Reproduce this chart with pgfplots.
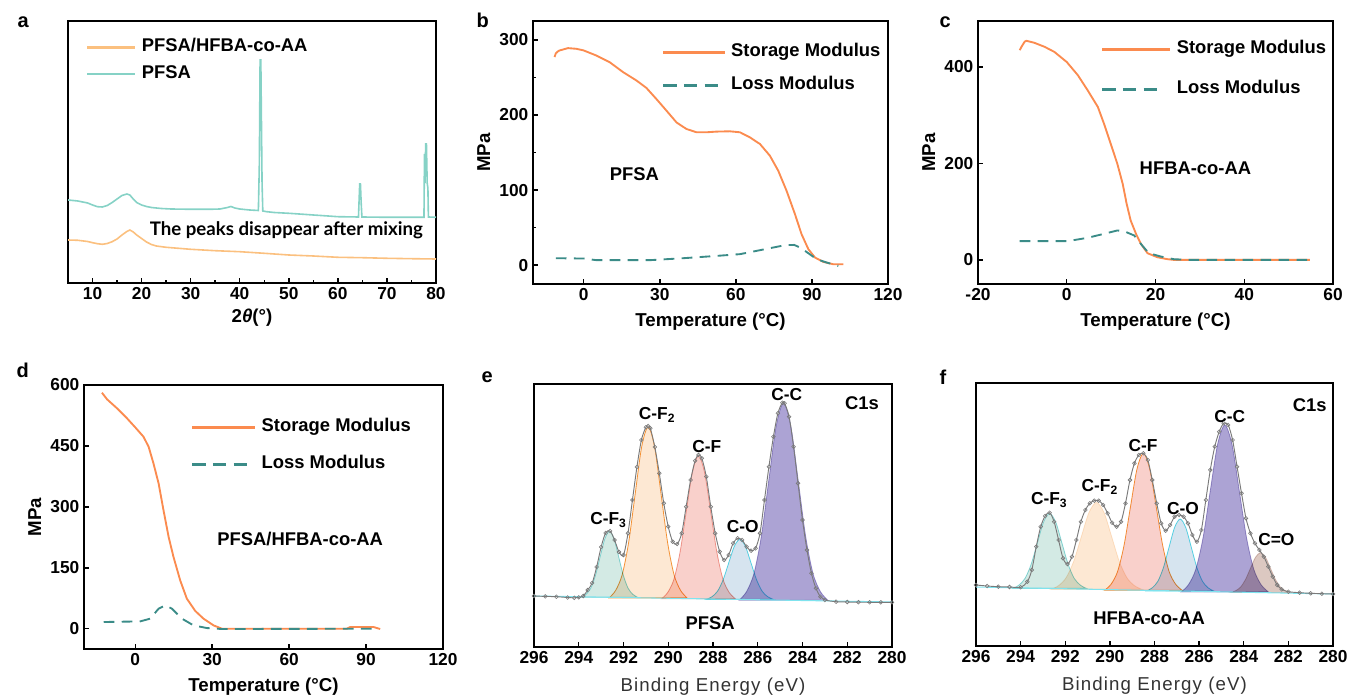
\documentclass[border=0pt]{standalone}
\usepackage{fontspec}
\setmainfont{Liberation Sans}
\newfontfamily\latofont{Lato}
\usepackage{pgfplots}
\pgfplotsset{compat=1.18}

\definecolor{Storage}{HTML}{FB8B4F}
\definecolor{Loss}{HTML}{3B8C88}
\definecolor{Pfsa}{HTML}{86D2C6}
\definecolor{Blend}{HTML}{FBC07F}
\definecolor{Env}{HTML}{7A7A7A}
\definecolor{Base}{HTML}{7FE3EE}
\definecolor{FthreeFill}{HTML}{D3EAE4}
\definecolor{FthreeEdge}{HTML}{8FDCDD}
\definecolor{FtwoFill}{HTML}{FDE8D3}
\definecolor{FtwoEdge}{HTML}{F59A3C}
\definecolor{FoneFill}{HTML}{F9D0CB}
\definecolor{FoneEdge}{HTML}{F2A49A}
\definecolor{COFill}{HTML}{D6E4EF}
\definecolor{COEdge}{HTML}{5FDDEA}
\definecolor{CCFill}{HTML}{ACA3D4}
\definecolor{CdOFill}{HTML}{DCC8C1}

\newcommand\tickfont{\fontsize{13}{15}\selectfont\bfseries}
\newcommand\labfont{\fontsize{14}{16}\selectfont\bfseries}
\newcommand\legfont{\fontsize{13.8}{16}\selectfont\bfseries}
\newcommand\pkfont{\fontsize{13}{15}\selectfont\bfseries}
% legend keys: coloured rules set as text, then the entry text
\newcommand\solidkey[2]{\textcolor{#1}{\rule[2.2pt]{#2}{2pt}}}
\newcommand\dashkey[1]{\textcolor{#1}{\rule[2.2pt]{10pt}{2pt}\hspace{5.5pt}\rule[2.2pt]{10pt}{2pt}\hspace{5.5pt}\rule[2.2pt]{10pt}{2pt}}}
\newcommand\legrow[3]{\node[anchor=west, inner sep=0pt, font=\legfont] at (axis description cs:#1) {#2\hspace{5pt}#3};}

\pgfplotsset{
  panel/.style={scale only axis, anchor=south west,
    axis line style={line width=1.4pt},
    tick pos=left, tick align=inside,
    major tick length=4pt, minor tick length=2.5pt,
    every tick/.style={black, line width=1.1pt},
    tick label style={font=\tickfont},
    /pgf/number format/assume math mode=true,
    label style={font=\labfont}},
  dma/.style={panel, xlabel={Temperature (°C)}, ylabel={MPa},
    xlabel style={yshift=-2pt}},
  xps/.style={panel, x dir=reverse, xmin=280, xmax=296, xtick={280,282,...,296},
    ymin=0, ymax=263, ytick=\empty,
    xlabel={Binding Energy (eV)},
    xlabel style={font=\fontsize{14}{16}\selectfont\addfontfeature{LetterSpace=6}, color=black!80, yshift=-4pt}},
  stor/.style={Storage, line width=1.4pt},
  loss/.style={Loss, line width=1.4pt, dash pattern=on 8pt off 5.5pt},
  env/.style={Env, line width=0.7pt, smooth, mark=o, mark size=1.4pt, mark options={solid, line width=0.45pt}},
  comp/.style={smooth, line width=0.6pt, blend mode=multiply}
}

\begin{document}
\begin{tikzpicture}
\path[use as bounding box] (0,0) rectangle (1011.75pt,524.25pt);

% panel letters
\node[anchor=base west, font=\fontsize{15}{17}\selectfont\bfseries] at (9.75pt,503.25pt) {a};
\node[anchor=base west, font=\fontsize{15}{17}\selectfont\bfseries] at (354pt,503.25pt) {b};
\node[anchor=base west, font=\fontsize{15}{17}\selectfont\bfseries] at (701.25pt,503.25pt) {c};
\node[anchor=base west, font=\fontsize{15}{17}\selectfont\bfseries] at (9pt,240.75pt) {d};
\node[anchor=base west, font=\fontsize{15}{17}\selectfont\bfseries] at (357.75pt,237pt) {e};
\node[anchor=base west, font=\fontsize{15}{17}\selectfont\bfseries] at (701.25pt,235.5pt) {f};

% (a) XRD
\begin{axis}[panel, at={(51pt,312pt)}, width=276pt, height=196.5pt,
  xmin=5, xmax=80, xtick={10,20,...,80}, minor x tick num=1,
  ymin=0, ymax=262, ytick=\empty,
  xlabel={2\textit{θ}(°)}]
\addplot[Blend, line width=1.2pt] coordinates {(5,43) (7,42.7) (9,41.5) (10,40.3) (11,39.3) (12,38.7) (13,39.5) (14,41.3) (15,44) (16,48) (17,51.5) (17.6,53) (18.3,51) (19,48) (20,44.5) (21,41) (22,38.5) (23,37) (25,35.7) (28,34.5) (30,33.7) (35,32.3) (40,31.3) (45,29.7) (50,28) (55,27) (60,25.7) (65,25.3) (70,24.7) (75,24.3) (80,24)};
\addplot[Pfsa, line width=1.2pt] coordinates {(5,83) (6,82.5) (7,82) (8,81) (9,80) (10,78) (11,76.3) (12,76) (13,77.5) (14,80.5) (15,84) (16,87.5) (17,89) (17.6,88) (18.3,84) (19,80.5) (20,78) (21,76.5) (22,75.5) (24,74.5) (26,74) (30,73.7) (34,73.7) (36,74) (37.5,75.5) (38.2,76.5) (39,75) (40,74) (42,73) (43.8,72.5) (44.0,120) (44.15,223) (44.3,223) (44.45,150) (44.55,100) (44.7,72) (45.5,71.3) (47,70.5) (50,69.7) (53,68.7) (55,68) (58,67) (60,66.3) (64.2,66) (64.45,99) (64.6,99) (64.75,80) (64.9,66) (70,65.7) (75,65.7) (77.55,65.7) (77.65,129) (77.75,100) (77.9,139) (78.05,139) (78.2,100) (78.35,95) (78.45,66) (80,65.7)};
\legrow{0.0516,0.908}{\solidkey{Blend}{36pt}}{PFSA/HFBA-co-AA}
\legrow{0.0516,0.805}{\solidkey{Pfsa}{36pt}}{PFSA}
\node[font=\latofont\fontsize{14}{16}\selectfont\bfseries] at (axis cs:49.5,53) {The peaks disappear after mixing};
\end{axis}

% (b) PFSA DMA
\begin{axis}[dma, at={(399.75pt,311.25pt)}, width=266.25pt, height=197.25pt,
  xmin=-20, xmax=120, xtick={0,30,60,90,120},
  ymin=-25, ymax=325, ytick={0,100,200,300}, minor y tick num=1]
\addplot[stor] coordinates {(-11.5,277) (-11,282) (-10,285) (-9.5,285.8) (-6.2,288.9) (-2.9,288) (0,285.8) (5,279) (10.3,270) (15.5,257) (20.8,245.8) (24.7,236) (28.7,221) (32.6,205.8) (36.6,190) (40.5,181.3) (44.5,176.9) (48.4,176.9) (52.4,177.8) (57.6,178.2) (61.6,176.9) (65.5,170.2) (69.5,161.3) (73.4,145.8) (76.7,125.8) (80,99) (83.3,68) (85.9,41.3) (88.6,21.3) (91.2,10.2) (94.5,4.4) (98.4,1.3) (102.4,1.3)};
\addplot[loss] coordinates {(-11,9.3) (0,8.9) (5,6.7) (12.9,6.7) (26,6.7) (39.2,9.3) (52.4,12.4) (61.6,14.7) (69.5,20) (76,24.4) (79.4,26.7) (83,27) (85,24) (87.3,19) (91.9,8) (95.8,3.6) (100.4,-0.9)};
\legrow{0.366,0.882}{\solidkey{Storage}{46pt}}{Storage Modulus}
\legrow{0.366,0.764}{\makebox[46pt][l]{\dashkey{Loss}}}{Loss Modulus}
\node[font=\legfont] at (axis cs:20,121) {PFSA};
\end{axis}

% (c) HFBA-co-AA DMA
\begin{axis}[dma, at={(733.5pt,311.25pt)}, width=266.25pt, height=197.25pt,
  xmin=-20, xmax=60, xtick={-20,0,20,40,60},
  ymin=-50, ymax=495, ytick={0,200,400}]
\addplot[stor] coordinates {(-10.6,434.6) (-10.2,441.5) (-9.5,452) (-9.1,454) (-7.3,449.8) (-5,441.5) (-2.8,431) (0,410) (2.5,382.7) (4.7,351.5) (7,317) (8.4,282) (9.9,240.8) (11.4,199) (12.6,157.8) (13.5,116) (14.4,81.7) (15.6,54) (16.7,33.2) (18.2,13.8) (20.4,5.5) (22.7,1.4) (24.1,0) (54.8,0)};
\addplot[loss] coordinates {(-10.6,38.8) (-5.8,38.8) (0.2,38.8) (4.7,45.7) (8.4,54) (11.4,60.9) (12.9,59.5) (15.2,50.5) (17,29.8) (18.5,13.8) (21.2,6.9) (24.1,1.4) (27.1,0) (54.8,0)};
\legrow{0.349,0.894}{\solidkey{Storage}{51pt}}{Storage Modulus}
\legrow{0.349,0.749}{\makebox[51pt][l]{\dashkey{Loss}}}{Loss Modulus}
\node[font=\legfont] at (axis cs:29,189) {HFBA-co-AA};
\end{axis}

% (d) blend DMA
\begin{axis}[dma, at={(63pt,37.5pt)}, width=269.25pt, height=198pt,
  xmin=-20, xmax=120, xtick={0,30,60,90,120},
  ymin=-50, ymax=600, ytick={0,150,...,600}]
\addplot[stor] coordinates {(-13,581) (-11,564.7) (-7.1,542.5) (-3.2,517.8) (0,495.6) (3.2,472.6) (5.2,448) (7.1,406.8) (9.1,357.5) (11,291.8) (13,226) (14.9,176.7) (17.5,119.2) (20.1,74) (23.4,43.6) (26.6,24.7) (30.5,8.2) (33.8,0) (82.5,0) (83.8,4.1) (92.9,4.1) (95.5,-0.8)};
\addplot[loss] coordinates {(-12.3,16.4) (1.9,18) (5.8,24.7) (9.1,49.3) (11.7,57.5) (14.3,49.3) (18.2,24.7) (22.7,8.2) (27.9,1.6) (33.8,-0.8) (94.2,0)};
\legrow{0.301,0.841}{\solidkey{Storage}{47pt}}{Storage Modulus}
\legrow{0.301,0.708}{\makebox[47pt][l]{\dashkey{Loss}}}{Loss Modulus}
\node[font=\legfont] at (axis cs:64.3,222) {PFSA/HFBA-co-AA};
\end{axis}

% (e) XPS PFSA
\begin{axis}[xps, at={(400.5pt,39pt)}, width=268.5pt, height=197.25pt]
\addplot[comp, fill=FthreeFill, draw=FthreeEdge] coordinates {(291.37,49.7) (291.58,52.6) (291.79,58.6) (292.00,71.1) (292.21,89.7) (292.42,107.9) (292.63,115.7) (292.84,107.9) (293.05,89.7) (293.26,71.1) (293.47,58.6) (293.68,52.6) (293.89,49.7)} -- cycle;
\addplot[comp, fill=FtwoFill, draw=FtwoEdge] coordinates {(289.16,49.1) (289.45,56.6) (289.74,72.2) (290.03,104.6) (290.32,152.8) (290.61,200.0) (290.90,220.1) (291.19,200.0) (291.48,152.8) (291.77,104.6) (292.06,72.2) (292.35,56.6) (292.64,49.1)} -- cycle;
\addplot[comp, fill=FoneFill, draw=FoneEdge] coordinates {(287.000,48.2) (287.275,54.5) (287.550,67.5) (287.825,94.6) (288.100,134.9) (288.375,174.4) (288.650,191.2) (288.925,174.4) (289.200,134.9) (289.475,94.6) (289.750,67.5) (290.025,54.5) (290.300,48.2)} -- cycle;
\addplot[comp, fill=COFill, draw=COEdge] coordinates {(285.30,47.6) (285.55,50.2) (285.80,55.7) (286.05,67.1) (286.30,84.0) (286.55,100.6) (286.80,107.6) (287.05,100.6) (287.30,84.0) (287.55,67.1) (287.80,55.7) (288.05,50.2) (288.30,47.6)} -- cycle;
\addplot[comp, fill=CCFill, draw=CCFill] coordinates {(282.87,46.8) (283.20,55.4) (283.53,73.5) (283.86,110.8) (284.19,166.3) (284.52,220.7) (284.85,243.8) (285.18,220.7) (285.51,166.3) (285.84,110.8) (286.17,73.5) (286.50,55.4) (286.83,46.8)} -- cycle;
\addplot[Base, line width=0.8pt] coordinates {(296,51) (280,45)};
\addplot[env] coordinates {(296,51) (295.5,50.6) (295,50.3) (294.5,49.5) (294.2,49.2) (294,49.7) (293.8,51) (293.6,57) (293.4,64) (293.2,80) (293.0,100) (292.8,114) (292.6,116) (292.4,107) (292.2,95) (292.0,92) (291.8,113.7) (291.6,147) (291.4,180) (291.2,207) (291.0,219.7) (290.9,221) (290.8,218.7) (290.6,200) (290.4,173.7) (290.2,143.7) (290.0,120.3) (289.8,105.3) (289.6,103) (289.4,113.7) (289.2,140.3) (289.0,167) (288.8,186.3) (288.65,192) (288.5,188.7) (288.3,170.3) (288.1,140.3) (287.9,113.7) (287.7,95.3) (287.5,87) (287.3,92) (287.1,103.7) (286.9,108.7) (286.7,107) (286.5,100.3) (286.3,96.3) (286.1,98.7) (285.9,113.7) (285.7,147) (285.5,180.3) (285.3,210.3) (285.1,233.7) (284.9,244.3) (284.8,243.7) (284.6,230.3) (284.4,200.3) (284.2,163.7) (284.0,127) (283.8,97) (283.6,73.7) (283.4,58.7) (283.2,50.3) (283.0,47) (282.5,45.3) (282,45) (281.5,44.8) (281,44.7) (280.5,44.7) (280,44.7)};
\node[font=\pkfont] at (axis cs:292.67,127) {C-F\textsubscript{3}};
\node[font=\pkfont] at (axis cs:290.5,232) {C-F\textsubscript{2}};
\node[font=\pkfont] at (axis cs:288.28,200) {C-F};
\node[font=\pkfont] at (axis cs:286.67,120.3) {C-O};
\node[font=\pkfont] at (axis cs:284.7,252) {C-C};
\node[font=\legfont] at (axis cs:281.34,244.3) {C1s};
\node[font=\legfont] at (axis cs:288.13,23.7) {PFSA};
\end{axis}

% (f) XPS HFBA-co-AA
\begin{axis}[xps, at={(732pt,39.75pt)}, width=267.75pt, height=197.25pt]
\addplot[comp, fill=FthreeFill, draw=FthreeEdge] coordinates {(291.050,57.6) (291.325,60.9) (291.600,67.7) (291.875,82.0) (292.150,103.1) (292.425,123.8) (292.700,132.6) (292.975,123.8) (293.250,103.1) (293.525,82.0) (293.800,67.7) (294.075,60.9) (294.350,57.6)} -- cycle;
\addplot[comp, fill=FtwoFill, draw=FtwoFill] coordinates {(288.56,56.6) (288.90,60.4) (289.24,68.4) (289.58,84.8) (289.92,109.4) (290.26,133.4) (290.60,143.6) (290.94,133.4) (291.28,109.4) (291.62,84.8) (291.96,68.4) (292.30,60.4) (292.64,56.6)} -- cycle;
\addplot[comp, fill=FoneFill, draw=FtwoEdge] coordinates {(286.76,55.7) (287.05,61.7) (287.34,74.2) (287.63,100.2) (287.92,138.8) (288.21,176.6) (288.50,192.7) (288.79,176.6) (289.08,138.8) (289.37,100.2) (289.66,74.2) (289.95,61.7) (290.24,55.7)} -- cycle;
\addplot[comp, fill=COFill, draw=COEdge] coordinates {(285.35,55.0) (285.60,58.2) (285.85,64.7) (286.10,78.4) (286.35,98.7) (286.60,118.5) (286.85,127.0) (287.10,118.5) (287.35,98.7) (287.60,78.4) (287.85,64.7) (288.10,58.2) (288.35,55.0)} -- cycle;
\addplot[comp, fill=CCFill, draw=CCFill] coordinates {(282.900,54.1) (283.225,61.4) (283.550,76.7) (283.875,108.3) (284.200,155.4) (284.525,201.5) (284.850,221.1) (285.175,201.5) (285.500,155.4) (285.825,108.3) (286.150,76.7) (286.475,61.4) (286.800,54.1)} -- cycle;
\addplot[comp, fill=CdOFill, draw=CdOFill] coordinates {(281.900,53.4) (282.125,55.2) (282.350,58.8) (282.575,66.4) (282.800,77.7) (283.025,88.7) (283.250,93.4) (283.475,88.7) (283.700,77.7) (283.925,66.4) (284.150,58.8) (284.375,55.2) (284.600,53.4)} -- cycle;
\addplot[Base, line width=0.8pt] coordinates {(296,59) (280,52)};
\addplot[env] coordinates {(296,61) (295.5,60) (295,59.3) (294.5,59) (294,58.7) (293.7,64.3) (293.5,76) (293.3,99.3) (293.1,119.3) (292.9,130) (292.7,133.3) (292.5,124.3) (292.3,106) (292.1,87.7) (291.9,82) (291.7,89.3) (291.5,106) (291.3,124.3) (291.1,136) (290.9,142.7) (290.7,145.3) (290.5,145.3) (290.3,141) (290.1,132.7) (289.9,123.3) (289.7,119.3) (289.5,124.3) (289.3,142.7) (289.1,166) (288.9,182.7) (288.7,191) (288.5,192.7) (288.3,186) (288.1,166) (287.9,142.7) (287.7,122.7) (287.5,115.3) (287.3,121) (287.1,129.3) (286.9,131) (286.7,129.3) (286.5,122.7) (286.3,111) (286.1,104.3) (285.9,116) (285.7,146) (285.5,176) (285.3,199.3) (285.1,214.3) (284.9,222.7) (284.7,221) (284.5,206) (284.3,179.3) (284.1,152.7) (283.9,127.7) (283.7,112.7) (283.5,102.7) (283.3,96) (283.1,89.3) (282.9,79.3) (282.7,69.3) (282.5,61) (282.3,56.7) (282.0,54.3) (281.5,53.3) (281,52.7) (280.5,52.3) (280,52)};
\node[font=\pkfont] at (axis cs:292.72,146) {C-F\textsubscript{3}};
\node[font=\pkfont] at (axis cs:290.45,159.3) {C-F\textsubscript{2}};
\node[font=\pkfont] at (axis cs:288.51,200) {C-F};
\node[font=\pkfont] at (axis cs:286.72,137.7) {C-O};
\node[font=\pkfont] at (axis cs:284.63,229.3) {C-C};
\node[font=\pkfont] at (axis cs:282.54,106.7) {C=O};
\node[font=\legfont] at (axis cs:281.04,241) {C1s};
\node[font=\legfont] at (axis cs:288.24,27.7) {HFBA-co-AA};
\end{axis}
\end{tikzpicture}
\end{document}
